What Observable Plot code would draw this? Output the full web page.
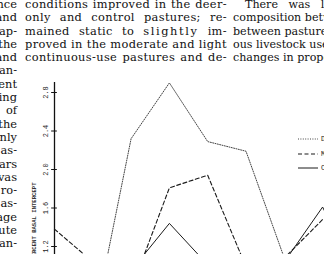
<!DOCTYPE html>
<html><head><meta charset="utf-8">
<script src="https://cdn.jsdelivr.net/npm/d3@7"></script>
<script src="https://cdn.jsdelivr.net/npm/@observablehq/plot@0.6"></script>
<style>
html,body{margin:0;padding:0;width:324px;height:254px;overflow:hidden;background:#fff;}
#page{position:relative;width:324px;height:254px;overflow:hidden;background:#fff;}
.col{position:absolute;font-family:"DejaVu Serif",serif;font-size:11.4px;line-height:13.3px;color:#111;}
.col div{white-space:nowrap;height:13.3px;}
.just div{display:flex;justify-content:space-between;gap:3px;letter-spacing:0.35px;}
#right{font-size:11.1px;}
#chart{position:absolute;left:0;top:0;width:400px;}
#legend{position:absolute;left:0;top:0;font-family:"Liberation Mono",monospace;font-size:7px;color:#222;}
#legend .row{position:absolute;left:298px;height:10px;white-space:nowrap;display:flex;align-items:center;}
#legend .row span{margin-left:3px;}
</style></head>
<body><div id="page">
<div class="col" id="left" style="left:-120px;top:-2px;width:137px;text-align:right;"></div>
<div class="col just" id="mid" style="left:25px;top:-2px;width:202px;"></div>
<div class="col" id="right" style="left:233px;top:-2px;width:220px;"></div>
<div id="chart"></div>
<div id="legend"></div>
</div>
<script>
// Text of the page around the figure
const leftLines = ["nce","and","ap-","the","and","an-","ent","ing","of","the","nly","as-","ars","vas","ro-","as-","age","ute","an-"];
const midLines = ["conditions improved in the deer-","only and control pastures; re-","mained static to slightly im-","proved in the moderate and light","continuous-use pastures and de-"];
const rightLines = ["There was little change in","composition between years or","between pastures with continu-","ous livestock use; however,","changes in proportions of"];

// Chart data
const periods = [0, 1, 2, 3, 4, 5, 6, 7, 8];
const deerOnly = [0.60, 0.35, 2.32, 2.90, 2.29, 2.19, 1.08, 0.80, 0.70];
const moderate = [1.38, 1.04, 0.75, 1.81, 1.94, 0.99, 1.08, 1.48, 1.55];
const control  = [0.95, 0.80, 0.95, 1.44, 1.01, 0.85, 1.04, 1.61, 0.80];
const yTicks = [1.2, 1.6, 2.0, 2.4, 2.8];
const seriesNames = ["DEER ONLY", "MODERATE", "CONTROL"];
const yTitle = "PERCENT BASAL INTERCEPT";

// left column: right-aligned line ends
const leftEl = document.getElementById("left");
leftLines.forEach(t => { const d = document.createElement("div"); d.textContent = t; leftEl.appendChild(d); });
// middle column: justified lines
const midEl = document.getElementById("mid");
midLines.forEach(t => {
  const d = document.createElement("div");
  t.split(" ").forEach(w => {
    const s = document.createElement("span");
    s.textContent = w;
    if (w === "slightly") s.style.letterSpacing = "1.6px";
    d.appendChild(s);
  });
  midEl.appendChild(d);
});
// right column
const rightEl = document.getElementById("right");
rightLines.forEach((t, i) => {
  const d = document.createElement("div");
  d.textContent = t;
  if (i === 0) { d.style.textIndent = "12px"; d.style.wordSpacing = "7px"; }
  rightEl.appendChild(d);
});

const styles = [
  {dash: "1,1.4", color: "#444", width: 1},
  {dash: "4,2.5", color: "#1a1a1a", width: 1.1},
  {dash: null, color: "#1a1a1a", width: 1}
];
const series = [deerOnly, moderate, control];
const lineMarks = series.map((vals, s) => Plot.line(periods.map((p, i) => ({p, v: vals[i]})), {
  x: "p", y: "v", stroke: styles[s].color, strokeWidth: styles[s].width,
  strokeDasharray: styles[s].dash, curve: "linear"
}));

const yTop = 2.904, yBottom = 0.4;
const chart = Plot.plot({
  width: 400, height: 330,
  marginLeft: 54, marginRight: 1.3, marginTop: 82, marginBottom: 7,
  x: {domain: [0, 9], axis: null},
  y: {domain: [yBottom, yTop], axis: null},
  style: {background: "transparent", maxWidth: "none", overflow: "hidden"},
  marks: [
    Plot.ruleX([0], {y1: yTop, y2: yBottom, stroke: "#111", strokeWidth: 1.3}),
    Plot.ruleY(yTicks, {y: d => d, x1: -0.075, x2: 0.075, stroke: "#111", strokeWidth: 1}),
    Plot.text(yTicks, {x: 0, y: d => d, text: d => d.toFixed(1), rotate: -90, dx: -8.5,
      fontFamily: "Liberation Mono", fontSize: 7, fill: "#222"}),
    Plot.text([yTitle], {x: 0, y: 1.865, text: d => d, rotate: -90, dx: -20, textAnchor: "end",
      fontFamily: "Liberation Mono", fontSize: 5.6, fontWeight: "bold", fill: "#333"}),
    ...lineMarks
  ]
});
document.getElementById("chart").appendChild(chart);

// Legend
const legend = document.getElementById("legend");
const legendTops = [134, 149, 163];
seriesNames.forEach((name, s) => {
  const row = document.createElement("div");
  row.className = "row";
  row.style.top = legendTops[s] + "px";
  const st = styles[s];
  row.innerHTML = `<svg width="20" height="10"><line x1="0" x2="20" y1="5" y2="5" stroke="${st.color}" stroke-width="${st.width}" ${st.dash ? `stroke-dasharray="${st.dash}"` : ""}/></svg><span>${name}</span>`;
  legend.appendChild(row);
});
</script>
</body></html>
